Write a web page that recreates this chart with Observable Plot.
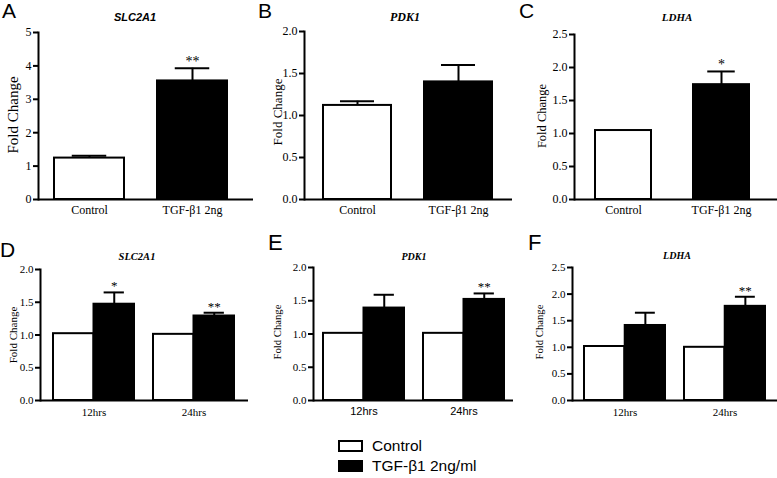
<!DOCTYPE html>
<html>
<head>
<meta charset="utf-8">
<script src="https://cdn.jsdelivr.net/npm/d3@7"></script>
<script src="https://cdn.jsdelivr.net/npm/@observablehq/plot@0.6"></script>
<style>
  html, body { margin: 0; padding: 0; background: #fff; }
  body { width: 777px; height: 478px; position: relative; overflow: hidden; }
  .abs { position: absolute; }
  .letter { font-family: "Liberation Sans", Arial, sans-serif; line-height: 1; color: #000; }
  .title { font-weight: bold; font-style: italic; line-height: 1; white-space: nowrap; transform: translate(-50%, -50%); color: #000; }
  .ylab { font-family: "Liberation Serif", "Times New Roman", serif; line-height: 1; white-space: nowrap; transform: translate(-50%, -50%) rotate(-90deg); color: #000; }
  .legend-row { position: absolute; display: flex; align-items: center; font-family: "Liberation Sans", Arial, sans-serif; font-size: 15.5px; color: #000; white-space: nowrap; }
  .swatch { box-sizing: border-box; width: 25px; height: 12px; border: 2.5px solid #000; margin-right: 9px; }
  #E g[aria-label="x-axis tick label"] { font-family: "Liberation Sans", Arial, sans-serif; }
</style>
</head>
<body>
<script>
// ---------- DATA ----------
const panelLetters = ["A", "B", "C", "D", "E", "F"];
const geneTitles = ["SLC2A1", "PDK1", "LDHA", "SLC2A1", "PDK1", "LDHA"];
const topCategories = ["Control", "TGF-β1 2ng"];
const timepoints = ["12hrs", "24hrs"];
const legendLabels = ["Control", "TGF-β1 2ng/ml"];
const yLabel = "Fold Change";

// top row (A–C): Control vs TGF-β1
const slc2a1TopValues = [1.24, 3.55];
const slc2a1TopErrors = [0.07, 0.38];
const slc2a1TopSig = ["", "**"];
const pdk1TopValues = [1.12, 1.40];
const pdk1TopErrors = [0.05, 0.20];
const pdk1TopSig = ["", ""];
const ldhaTopValues = [1.045, 1.74];
const ldhaTopErrors = [0, 0.20];
const ldhaTopSig = ["", "*"];

// bottom row (D–F): 12hrs / 24hrs
const slc2a1Control = [1.02, 1.01];
const slc2a1Tgf = [1.47, 1.29];
const slc2a1TgfErrors = [0.18, 0.05];
const slc2a1Sig = ["*", "**"];
const pdk1Control = [1.01, 1.01];
const pdk1Tgf = [1.39, 1.52];
const pdk1TgfErrors = [0.20, 0.09];
const pdk1Sig = ["", "**"];
const ldhaControl = [1.015, 1.0];
const ldhaTgf = [1.41, 1.77];
const ldhaTgfErrors = [0.24, 0.18];
const ldhaSig = ["", "**"];

// y tick values
const ticksA = [0, 1, 2, 3, 4, 5];
const ticks20 = [0, 0.5, 1.0, 1.5, 2.0];
const ticks25 = [0, 0.5, 1.0, 1.5, 2.0, 2.5];

// ---------- LAYOUT ----------
const SERIF = '"Liberation Serif", "Times New Roman", serif';
const SANS = '"Liberation Sans", Arial, sans-serif';

function addDiv(cls, text, style) {
  const d = document.createElement("div");
  d.className = "abs " + cls;
  d.textContent = text;
  Object.assign(d.style, style);
  document.body.appendChild(d);
  return d;
}

function svgStyle(fs) {
  return `font-family: ${SERIF}; font-size: ${fs}px; background: transparent; color: black; overflow: visible;`;
}

function commonMarks(cfg) {
  return [
    Plot.ruleY([0], {stroke: "black", strokeWidth: 2}),
    Plot.frame({anchor: "left", stroke: "black", strokeWidth: 2}),
    Plot.axisY({ticks: cfg.ticks, tickFormat: cfg.fmt, tickSize: 5, tickPadding: 2, strokeWidth: 2, label: null}),
    Plot.axisX({tickSize: 0, tickPadding: cfg.xPad, label: null})
  ];
}

function simplePanel(cfg) {
  const rows = topCategories.map((c, i) => ({cat: c, value: cfg.values[i], err: cfg.errors[i], top: cfg.values[i] + cfg.errors[i], sig: cfg.sig[i]}));
  const L = cfg.xRange[1] - cfg.xRange[0];
  const bw = L / (2 - cfg.pad) * (1 - cfg.pad);
  const chart = Plot.plot({
    width: cfg.width, height: cfg.height,
    marginLeft: cfg.ml, marginRight: cfg.mr, marginTop: cfg.mt, marginBottom: cfg.mb,
    style: svgStyle(cfg.fs),
    x: {type: "band", domain: topCategories, range: cfg.xRange, paddingInner: cfg.pad, paddingOuter: 0},
    y: {domain: [0, cfg.ymax], nice: false},
    marks: [
      Plot.barY(rows.filter(d => d.cat === topCategories[0]), {x: "cat", y: "value", fill: "white", stroke: "black", strokeWidth: 2}),
      Plot.barY(rows.filter(d => d.cat === topCategories[1]), {x: "cat", y: "value", fill: "black", stroke: "black", strokeWidth: 2}),
      Plot.ruleX(rows.filter(d => d.err > 0), {x: "cat", y1: "value", y2: "top", stroke: "black", strokeWidth: 2}),
      Plot.tickY(rows.filter(d => d.err > 0), {x: "cat", y: "top", insetLeft: bw / 4, insetRight: bw / 4, stroke: "black", strokeWidth: 2}),
      Plot.text(rows.filter(d => d.sig), {x: "cat", y: "top", text: "sig", lineAnchor: "bottom", dy: -2, fontSize: cfg.fs + 2, fontFamily: SERIF}),
      ...commonMarks(cfg)
    ]
  });
  place(chart, cfg);
}

function groupedPanel(cfg) {
  const ctrl = timepoints.map((t, i) => ({time: t, value: cfg.control[i]}));
  const tgf = timepoints.map((t, i) => ({time: t, value: cfg.tgf[i], err: cfg.errors[i], top: cfg.tgf[i] + cfg.errors[i], sig: cfg.sig[i]}));
  const L = cfg.xRange[1] - cfg.xRange[0];
  const bw = L / (2 - cfg.pad) * (1 - cfg.pad);
  const chart = Plot.plot({
    width: cfg.width, height: cfg.height,
    marginLeft: cfg.ml, marginRight: cfg.mr, marginTop: cfg.mt, marginBottom: cfg.mb,
    style: svgStyle(cfg.fs),
    x: {type: "band", domain: timepoints, range: cfg.xRange, paddingInner: cfg.pad, paddingOuter: 0},
    y: {domain: [0, cfg.ymax], nice: false},
    marks: [
      Plot.barY(ctrl, {x: "time", y: "value", insetRight: bw / 2, fill: "white", stroke: "black", strokeWidth: 2}),
      Plot.barY(tgf, {x: "time", y: "value", insetLeft: bw / 2, fill: "black", stroke: "black", strokeWidth: 2}),
      Plot.ruleX(tgf.filter(d => d.err > 0), {x: "time", y1: "value", y2: "top", dx: bw / 4, stroke: "black", strokeWidth: 2}),
      Plot.tickY(tgf.filter(d => d.err > 0), {x: "time", y: "top", insetLeft: 5 * bw / 8, insetRight: bw / 8, stroke: "black", strokeWidth: 2}),
      Plot.text(tgf.filter(d => d.sig), {x: "time", y: "top", text: "sig", dx: bw / 4, lineAnchor: "bottom", dy: -2, fontSize: cfg.fs + 2, fontFamily: SERIF}),
      ...commonMarks(cfg)
    ]
  });
  place(chart, cfg);
}

function place(chart, cfg) {
  const wrap = document.createElement("div");
  wrap.className = "abs";
  wrap.id = cfg.id;
  wrap.style.left = cfg.left + "px";
  wrap.style.top = cfg.top + "px";
  wrap.appendChild(chart);
  document.body.appendChild(wrap);
  addDiv("letter", cfg.letter, {left: cfg.letterX + "px", top: cfg.letterY + "px", fontSize: cfg.letterFs + "px"});
  addDiv("title", cfg.title, {left: cfg.titleX + "px", top: cfg.titleY + "px", fontSize: cfg.titleFs + "px", fontFamily: cfg.titleFont});
  addDiv("ylab", yLabel, {left: cfg.ylabX + "px", top: cfg.ylabY + "px", fontSize: cfg.ylabFs + "px"});
}

const f0 = d3.format("d");
const f1 = d3.format(".1f");

simplePanel({id: "A", letter: panelLetters[0], title: geneTitles[0], values: slc2a1TopValues, errors: slc2a1TopErrors, sig: slc2a1TopSig,
  left: 0, top: 0, width: 255, height: 222, ml: 38, mr: 2, mt: 32, mb: 23, xRange: [53, 228], pad: 0.317,
  ymax: 5, ticks: ticksA, fmt: f0, fs: 12, xPad: 6,
  letterX: 2, letterY: 0, letterFs: 21, titleX: 135, titleY: 17, titleFs: 11, titleFont: SANS, ylabX: 13, ylabY: 115, ylabFs: 15});
simplePanel({id: "B", letter: panelLetters[1], title: geneTitles[1], values: pdk1TopValues, errors: pdk1TopErrors, sig: pdk1TopSig,
  left: 255, top: 0, width: 260, height: 222, ml: 49, mr: 3, mt: 31, mb: 23, xRange: [68, 237], pad: 0.327,
  ymax: 2, ticks: ticks20, fmt: f1, fs: 12, xPad: 6,
  letterX: 258, letterY: 0, letterFs: 21, titleX: 405, titleY: 17, titleFs: 12, titleFont: SERIF, ylabX: 277, ylabY: 112, ylabFs: 13});
simplePanel({id: "C", letter: panelLetters[2], title: geneTitles[2], values: ldhaTopValues, errors: ldhaTopErrors, sig: ldhaTopSig,
  left: 515, top: 0, width: 262, height: 222, ml: 59, mr: 0, mt: 34, mb: 23, xRange: [79, 235], pad: 0.424,
  ymax: 2.5, ticks: ticks25, fmt: f1, fs: 12, xPad: 6,
  letterX: 519, letterY: 0, letterFs: 21, titleX: 677, titleY: 17, titleFs: 11, titleFont: SERIF, ylabX: 542, ylabY: 116, ylabFs: 12.5});

groupedPanel({id: "D", letter: panelLetters[3], title: geneTitles[3], control: slc2a1Control, tgf: slc2a1Tgf, errors: slc2a1TgfErrors, sig: slc2a1Sig,
  left: 0, top: 220, width: 255, height: 200, ml: 40, mr: 7, mt: 49, mb: 20, xRange: [53, 234], pad: 0.19,
  ymax: 2, ticks: ticks20, fmt: f1, fs: 11, xPad: 8,
  letterX: 0, letterY: 239, letterFs: 21, titleX: 137, titleY: 257, titleFs: 10.5, titleFont: SERIF, ylabX: 12.5, ylabY: 335, ylabFs: 11});
groupedPanel({id: "E", letter: panelLetters[4], title: geneTitles[4], control: pdk1Control, tgf: pdk1Tgf, errors: pdk1TgfErrors, sig: pdk1Sig,
  left: 255, top: 220, width: 260, height: 200, ml: 58, mr: 2, mt: 47, mb: 20, xRange: [68, 249], pad: 0.19,
  ymax: 2, ticks: ticks20, fmt: f1, fs: 11, xPad: 7,
  letterX: 268, letterY: 232, letterFs: 22, titleX: 414, titleY: 257, titleFs: 10, titleFont: SERIF, ylabX: 277, ylabY: 332, ylabFs: 10.7});
groupedPanel({id: "F", letter: panelLetters[5], title: geneTitles[5], control: ldhaControl, tgf: ldhaTgf, errors: ldhaTgfErrors, sig: ldhaSig,
  left: 515, top: 220, width: 262, height: 200, ml: 57, mr: 0, mt: 47, mb: 20, xRange: [68, 250], pad: 0.19,
  ymax: 2.5, ticks: ticks25, fmt: f1, fs: 11, xPad: 8,
  letterX: 528, letterY: 232, letterFs: 22, titleX: 677, titleY: 256, titleFs: 10, titleFont: SERIF, ylabX: 539, ylabY: 332, ylabFs: 10.7});

// ---------- LEGEND ----------
const legendFills = ["white", "black"];
legendLabels.forEach((lab, i) => {
  const row = document.createElement("div");
  row.className = "legend-row";
  row.style.left = "338px";
  row.style.top = (437 + i * 20) + "px";
  const sw = document.createElement("span");
  sw.className = "swatch";
  sw.style.background = legendFills[i];
  const tx = document.createElement("span");
  tx.textContent = lab;
  row.appendChild(sw);
  row.appendChild(tx);
  document.body.appendChild(row);
});
</script>
</body>
</html>
